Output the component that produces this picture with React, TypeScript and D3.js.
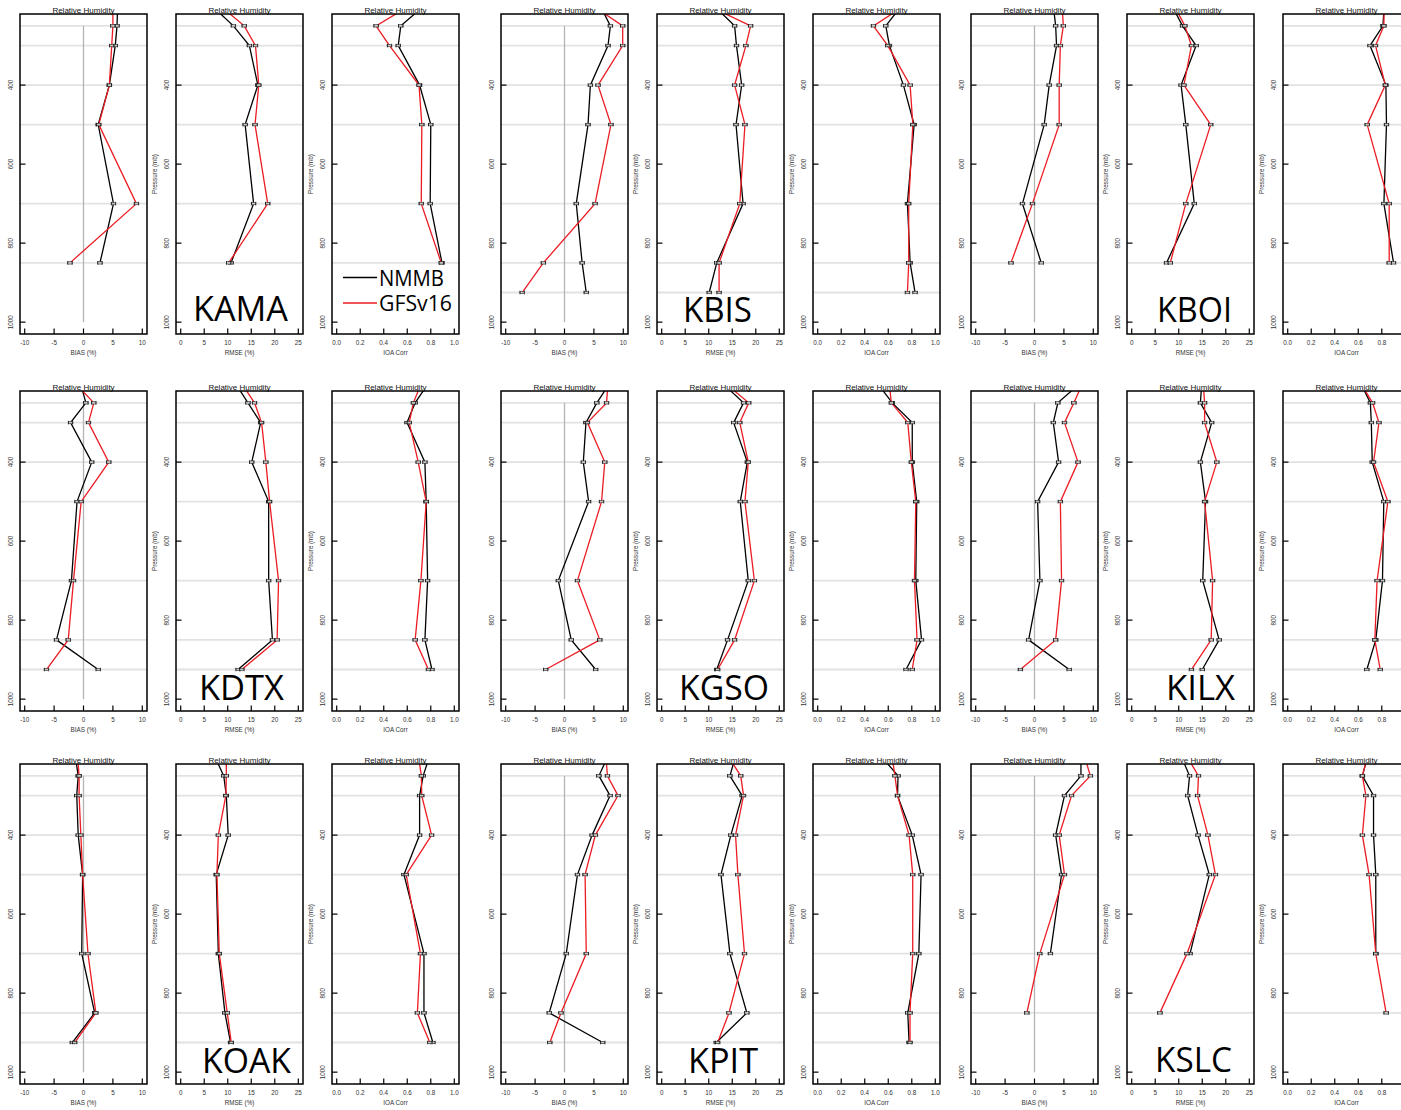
import React from 'react';
import * as d3 from 'd3';

// ---------------- DATA ----------------
const levels = [200, 250, 300, 400, 500, 700, 850, 925];
const seriesNames = ['NMMB', 'GFSv16'];
const metricLabels = ['BIAS (%)', 'RMSE (%)', 'IOA Corr'];
const biasTicks = [-10, -5, 0, 5, 10];
const rmseTicks = [0, 5, 10, 15, 20, 25];
const ioaTicks = [0, 0.2, 0.4, 0.6, 0.8, 1.0];
const pressureTicks = [400, 600, 800, 1000];
const stationNames = ['KAMA', 'KBIS', 'KBOI', 'KDTX', 'KGSO', 'KILX', 'KOAK', 'KPIT', 'KSLC'];

// KAMA
const KAMA_BIAS_NMMB = [5.8, 5.7, 5.4, 4.4, 2.5, 5.1, 2.8];
const KAMA_BIAS_GFS = [5.0, 5.0, 4.8, 4.4, 2.6, 9.0, -2.3];
const KAMA_RMSE_NMMB = [6.7, 11.2, 14.6, 16.4, 13.7, 15.5, 10.7];
const KAMA_RMSE_GFS = [8.5, 13.5, 15.9, 16.6, 15.8, 18.5, 10.2];
const KAMA_IOA_NMMB = [0.74, 0.545, 0.523, 0.705, 0.8, 0.795, 0.895];
const KAMA_IOA_GFS = [0.615, 0.335, 0.449, 0.7, 0.724, 0.719, 0.889];
// KBIS
const KBIS_BIAS_NMMB = [6.1, 7.8, 7.4, 4.4, 4.0, 2.0, 3.0, 3.7];
const KBIS_BIAS_GFS = [4.9, 9.9, 9.9, 5.7, 7.9, 5.2, -3.6, -7.2];
const KBIS_RMSE_NMMB = [11.2, 15.5, 15.9, 17.0, 15.8, 17.3, 11.7, 10.1];
const KBIS_RMSE_GFS = [10.1, 18.9, 17.9, 15.5, 17.7, 16.6, 12.2, 12.2];
const KBIS_IOA_NMMB = [0.71, 0.579, 0.61, 0.729, 0.82, 0.763, 0.786, 0.828];
const KBIS_IOA_GFS = [0.734, 0.474, 0.596, 0.786, 0.809, 0.774, 0.774, 0.763];
// KBOI
const KBOI_BIAS_NMMB = [3.2, 3.6, 3.75, 2.5, 1.65, -2.05, 1.15];
const KBOI_BIAS_GFS = [4.7, 4.9, 4.4, 4.2, 4.2, -0.35, -4.0];
const KBOI_RMSE_NMMB = [8.6, 10.8, 13.7, 10.5, 11.5, 13.3, 7.4];
const KBOI_RMSE_GFS = [9.1, 11.3, 12.7, 11.1, 16.8, 11.5, 8.2];
const KBOI_IOA_NMMB = [0.82, 0.81, 0.7, 0.835, 0.84, 0.818, 0.9];
const KBOI_IOA_GFS = [0.82, 0.818, 0.747, 0.83, 0.676, 0.863, 0.863];
// KDTX
const KDTX_BIAS_NMMB = [-0.5, 0.4, -2.2, 1.4, -1.1, -2.05, -4.6, 2.5];
const KDTX_BIAS_GFS = [-1.4, 1.75, 0.85, 4.3, -0.4, -1.7, -2.6, -6.3];
const KDTX_RMSE_NMMB = [11.6, 14.3, 17.0, 15.1, 18.7, 18.7, 19.5, 12.2];
const KDTX_RMSE_GFS = [12.9, 15.7, 17.2, 18.1, 18.9, 20.8, 20.5, 13.0];
const KDTX_IOA_NMMB = [0.78, 0.667, 0.598, 0.75, 0.761, 0.773, 0.75, 0.81];
const KDTX_IOA_GFS = [0.72, 0.652, 0.617, 0.693, 0.761, 0.716, 0.667, 0.78];
// KGSO
const KGSO_BIAS_NMMB = [7.7, 5.5, 3.65, 3.2, 4.1, -1.05, 1.15, 5.3];
const KGSO_BIAS_GFS = [7.4, 7.15, 3.9, 6.85, 6.3, 2.2, 6.0, -3.2];
const KGSO_RMSE_NMMB = [12.9, 17.4, 15.3, 18.2, 16.7, 18.4, 14.0, 11.7];
const KGSO_RMSE_GFS = [13.5, 18.5, 16.6, 18.4, 17.7, 19.7, 15.5, 11.9];
const KGSO_IOA_NMMB = [0.507, 0.634, 0.804, 0.804, 0.842, 0.834, 0.883, 0.751];
const KGSO_IOA_GFS = [0.608, 0.626, 0.766, 0.796, 0.834, 0.823, 0.845, 0.804];
// KILX
const KILX_BIAS_NMMB = [7.8, 3.97, 3.2, 4.1, 0.53, 0.92, -1.0, 5.9];
const KILX_BIAS_GFS = [8.2, 6.7, 5.1, 7.4, 4.4, 4.6, 3.6, -2.4];
const KILX_RMSE_NMMB = [14.9, 14.6, 17.0, 14.6, 15.7, 15.1, 18.6, 15.0];
const KILX_RMSE_GFS = [15.2, 15.5, 15.5, 18.1, 15.5, 17.2, 16.9, 12.7];
const KILX_IOA_NMMB = [0.62, 0.703, 0.711, 0.719, 0.817, 0.806, 0.749, 0.673];
const KILX_IOA_GFS = [0.62, 0.722, 0.776, 0.73, 0.852, 0.76, 0.741, 0.787];
// KOAK
const KOAK_BIAS_NMMB = [-1.4, -0.9, -1.15, -0.9, -0.15, -0.3, 1.9, -1.9];
const KOAK_BIAS_GFS = [-1.0, -0.75, -0.75, -0.45, -0.15, 0.76, 2.1, -1.5];
const KOAK_RMSE_NMMB = [7.2, 9.15, 9.7, 10.1, 7.55, 8.0, 9.4, 10.6];
const KOAK_RMSE_GFS = [9.7, 9.7, 9.6, 8.0, 7.7, 8.2, 9.9, 10.75];
const KOAK_IOA_NMMB = [0.79, 0.735, 0.705, 0.705, 0.572, 0.742, 0.742, 0.818];
const KOAK_IOA_GFS = [0.695, 0.72, 0.723, 0.807, 0.591, 0.712, 0.686, 0.792];
// KPIT
const KPIT_BIAS_NMMB = [7.4, 5.85, 7.75, 4.7, 2.2, 0.3, -2.6, 6.5];
const KPIT_BIAS_GFS = [7.05, 7.3, 9.1, 5.25, 3.5, 3.7, -0.6, -2.5];
const KPIT_RMSE_NMMB = [15.7, 14.5, 17.1, 14.7, 12.6, 14.5, 18.1, 11.6];
const KPIT_RMSE_GFS = [14.1, 16.8, 17.4, 15.7, 16.2, 17.6, 14.3, 11.9];
const KPIT_IOA_NMMB = [0.538, 0.683, 0.679, 0.804, 0.879, 0.86, 0.766, 0.777];
const KPIT_IOA_GFS = [0.632, 0.657, 0.679, 0.777, 0.808, 0.808, 0.785, 0.785];
// KSLC
const KSLC_BIAS_NMMB = [7.9, 7.9, 5.1, 3.6, 4.6, 2.7];
const KSLC_BIAS_GFS = [8.5, 9.5, 6.3, 4.2, 5.1, 0.9, -1.3];
const KSLC_RMSE_NMMB = [10.5, 12.3, 11.9, 14.1, 16.5, 12.4];
const KSLC_RMSE_GFS = [11.7, 14.2, 14.0, 16.2, 17.8, 11.75, 6.0];
const KSLC_IOA_NMMB = [0.68, 0.635, 0.73, 0.73, 0.749, 0.749];
const KSLC_IOA_GFS = [0.68, 0.635, 0.665, 0.635, 0.692, 0.749, 0.837];

const stationData: number[][][][] = [
  [[KAMA_BIAS_NMMB, KAMA_BIAS_GFS], [KAMA_RMSE_NMMB, KAMA_RMSE_GFS], [KAMA_IOA_NMMB, KAMA_IOA_GFS]],
  [[KBIS_BIAS_NMMB, KBIS_BIAS_GFS], [KBIS_RMSE_NMMB, KBIS_RMSE_GFS], [KBIS_IOA_NMMB, KBIS_IOA_GFS]],
  [[KBOI_BIAS_NMMB, KBOI_BIAS_GFS], [KBOI_RMSE_NMMB, KBOI_RMSE_GFS], [KBOI_IOA_NMMB, KBOI_IOA_GFS]],
  [[KDTX_BIAS_NMMB, KDTX_BIAS_GFS], [KDTX_RMSE_NMMB, KDTX_RMSE_GFS], [KDTX_IOA_NMMB, KDTX_IOA_GFS]],
  [[KGSO_BIAS_NMMB, KGSO_BIAS_GFS], [KGSO_RMSE_NMMB, KGSO_RMSE_GFS], [KGSO_IOA_NMMB, KGSO_IOA_GFS]],
  [[KILX_BIAS_NMMB, KILX_BIAS_GFS], [KILX_RMSE_NMMB, KILX_RMSE_GFS], [KILX_IOA_NMMB, KILX_IOA_GFS]],
  [[KOAK_BIAS_NMMB, KOAK_BIAS_GFS], [KOAK_RMSE_NMMB, KOAK_RMSE_GFS], [KOAK_IOA_NMMB, KOAK_IOA_GFS]],
  [[KPIT_BIAS_NMMB, KPIT_BIAS_GFS], [KPIT_RMSE_NMMB, KPIT_RMSE_GFS], [KPIT_IOA_NMMB, KPIT_IOA_GFS]],
  [[KSLC_BIAS_NMMB, KSLC_BIAS_GFS], [KSLC_RMSE_NMMB, KSLC_RMSE_GFS], [KSLC_IOA_NMMB, KSLC_IOA_GFS]],
];

// ---------------- LAYOUT ----------------
const W = 1401;
const H = 1110;
const PANEL_W = 127;
const PANEL_H = 320;
const groupX = [20, 501, 971];
const rowY = [14, 391, 764];
const panelDX = [0, 156, 312];
const seriesColors = ['#000000', '#ec1c24'];
// station label: [x start, baseline offset from row top, text length]
const labelLayout = [
  [193, 307, 95], [683, 308, 69], [1157, 308, 75],
  [199, 309, 85], [679, 309, 90], [1166, 309, 69],
  [202, 309, 89], [688, 309, 70], [1155, 308, 77],
];
const SMALL_FONT = 'Liberation Sans, Arial, Helvetica, sans-serif';
const BIG_FONT = 'Open Sans, Noto Sans, sans-serif';

const metricDomains = [[-10, 10], [0, 25], [0, 1]];
const metricTicks = [biasTicks, rmseTicks, ioaTicks];
const fmtIOA = d3.format('.1f');

function expand(d: number[]) {
  const r = (d[1] - d[0]) * 0.04;
  return [d[0] - r, d[1] + r];
}

function Panel({ si, mi, x0, y0 }: { si: number; mi: number; x0: number; y0: number }) {
  const xs = d3.scaleLinear().domain(expand(metricDomains[mi])).range([x0, x0 + PANEL_W]);
  const ys = d3.scaleLinear().domain([1030, 220]).range([y0 + PANEL_H, y0]);
  const data = stationData[si][mi];
  const nLev = Math.max(...data.map((s) => s.length));
  const gridLevels = levels.slice(1, nLev);
  const clipId = `clip-${si}-${mi}`;
  const line = d3
    .line<number>()
    .x((v) => xs(v))
    .y((_, i) => ys(levels[i]));
  const tickFmt = mi === 2 ? (v: number) => fmtIOA(v) : (v: number) => String(v);
  const bottom = y0 + PANEL_H;
  return (
    <g>
      <defs>
        <clipPath id={clipId}>
          <rect x={x0} y={y0} width={PANEL_W} height={PANEL_H} />
        </clipPath>
      </defs>
      <g clipPath={`url(#${clipId})`}>
        {gridLevels.map((p) => (
          <line key={p} x1={x0} x2={x0 + PANEL_W} y1={ys(p)} y2={ys(p)} stroke="#e2e2e2" strokeWidth={1.8} />
        ))}
        {mi === 0 && (
          <line x1={xs(0)} x2={xs(0)} y1={ys(250)} y2={ys(1000)} stroke="#b4b4b4" strokeWidth={1.3} />
        )}
        {data.map((s, k) => (
          <path key={k} d={line(s) || ''} fill="none" stroke={seriesColors[k]} strokeWidth={1.3} />
        ))}
        {data.map((s, k) =>
          s.map((v, i) =>
            i === 0 ? null : (
              <g key={`${k}-${i}`} stroke="#1a1a1a" strokeWidth={0.8}>
                <rect x={xs(v) - 2.2} y={ys(levels[i]) - 1.2} width={4.4} height={2.4} fill="#c4c4c4" strokeWidth={0.5} />
                <line x1={xs(v) - 2.2} x2={xs(v) - 2.2} y1={ys(levels[i]) - 1.8} y2={ys(levels[i]) + 1.8} />
                <line x1={xs(v) + 2.2} x2={xs(v) + 2.2} y1={ys(levels[i]) - 1.8} y2={ys(levels[i]) + 1.8} />
              </g>
            )
          )
        )}
      </g>
      {/* ticks */}
      {pressureTicks.map((p) => (
        <g key={p}>
          <line x1={x0} x2={x0 + 5.5} y1={ys(p)} y2={ys(p)} stroke="#000" strokeWidth={1.2} />
          <text
            transform={`translate(${x0 - 7},${ys(p)}) rotate(-90)`}
            textAnchor="middle"
            fontFamily={SMALL_FONT}
            fontSize={6.3}
            fill="#333"
          >
            {p}
          </text>
        </g>
      ))}
      {metricTicks[mi].map((t) => (
        <g key={t}>
          <line x1={xs(t)} x2={xs(t)} y1={bottom} y2={bottom - 5.5} stroke="#000" strokeWidth={1.2} />
          <text x={xs(t)} y={bottom + 11} textAnchor="middle" fontFamily={SMALL_FONT} fontSize={6.3} fill="#333">
            {tickFmt(t)}
          </text>
        </g>
      ))}
      <text x={x0 + PANEL_W / 2} y={bottom + 21} textAnchor="middle" fontFamily={SMALL_FONT} fontSize={6.3} fill="#333">
        {metricLabels[mi]}
      </text>
      {mi > 0 && (
        <text
          transform={`translate(${x0 - 19},${y0 + PANEL_H / 2}) rotate(-90)`}
          textAnchor="middle"
          fontFamily={SMALL_FONT}
          fontSize={6.3}
          fill="#333"
        >
          Pressure (mb)
        </text>
      )}
      <text x={x0 + PANEL_W / 2} y={y0 - 1} textAnchor="middle" fontFamily={SMALL_FONT} fontSize={8} fill="#111">
        Relative Humidity
      </text>
      <rect x={x0} y={y0} width={PANEL_W} height={PANEL_H} fill="none" stroke="#000" strokeWidth={1.5} />
    </g>
  );
}

export default function App() {
  return (
    <svg
      width={W}
      height={H}
      style={{ position: 'absolute', left: 0, top: 0, background: '#fff' }}
      xmlns="http://www.w3.org/2000/svg"
    >
      <rect x={0} y={0} width={W} height={H} fill="#fff" />
      {stationNames.map((name, si) => {
        const row = Math.floor(si / 3);
        const col = si % 3;
        const y0 = rowY[row];
        const [lx, lb, lw] = labelLayout[si];
        return (
          <g key={name}>
            {[0, 1, 2].map((mi) => (
              <Panel key={mi} si={si} mi={mi} x0={groupX[col] + panelDX[mi]} y0={y0} />
            ))}
            <text
              x={lx}
              y={y0 + lb}
              fontFamily={BIG_FONT}
              fontSize={34}
              fill="#000"
              textLength={lw}
              lengthAdjust="spacingAndGlyphs"
            >
              {name}
            </text>
          </g>
        );
      })}
      {/* legend in first station's IOA panel */}
      {seriesNames.map((s, k) => (
        <g key={s}>
          <line x1={343} x2={377} y1={277.5 + k * 25.5} y2={277.5 + k * 25.5} stroke={seriesColors[k]} strokeWidth={1.5} />
          <text
            x={379}
            y={285.5 + k * 25}
            fontFamily={BIG_FONT}
            fontSize={22.5}
            fill="#000"
            textLength={k === 0 ? 65 : 73}
            lengthAdjust="spacingAndGlyphs"
          >
            {s}
          </text>
        </g>
      ))}
    </svg>
  );
}
